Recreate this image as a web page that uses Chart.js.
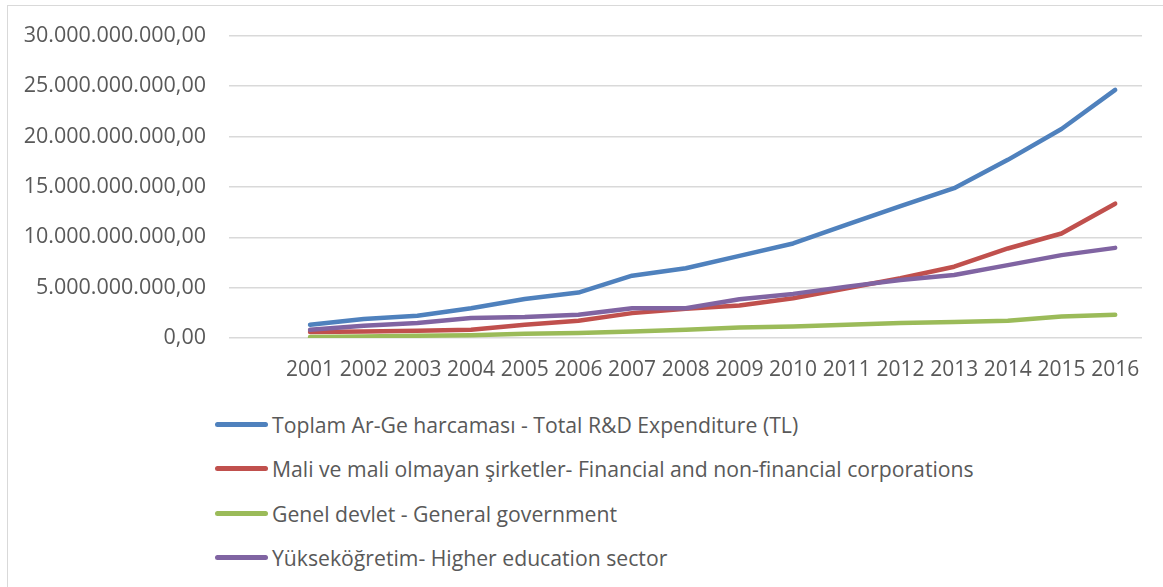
<!DOCTYPE html>
<html>
<head>
<meta charset="utf-8">
<script src="https://cdn.jsdelivr.net/npm/chart.js@4.4.1/dist/chart.umd.min.js"></script>
<style>
  html, body { margin: 0; padding: 0; background: #ffffff; }
  body { width: 1163px; height: 587px; overflow: hidden; position: relative; font-family: 'Open Sans', sans-serif; }
  #frame { position: absolute; left: 7px; top: 5px; width: 1220px; height: 640px; border: 1px solid #d9d9d9; box-sizing: border-box; }
  #wrap { position: absolute; left: 0; top: 0; width: 1163px; height: 400px; }
  #legend { position: absolute; left: 215px; top: 402px; }
  .row { height: 44.5px; display: flex; align-items: center; white-space: nowrap; }
  .swatch { display: inline-block; width: 53px; height: 5px; border-radius: 3px; margin-right: 4px; }
  .label { font-size: 21.2px; color: #595959; font-family: 'Open Sans', sans-serif; }
</style>
</head>
<body>
<div id="frame"></div>
<div id="wrap"><canvas id="c"></canvas></div>
<div id="legend"></div>
<script>
// ---- data ----
const years = [2001, 2002, 2003, 2004, 2005, 2006, 2007, 2008, 2009, 2010, 2011, 2012, 2013, 2014, 2015, 2016];
const seriesNames = [
  'Toplam Ar-Ge harcaması - Total R&D Expenditure (TL)',
  'Mali ve mali olmayan şirketler- Financial and non-financial corporations',
  'Genel devlet - General government',
  'Yükseköğretim- Higher education sector'
];
const totalRD = [1310000000, 1880000000, 2200000000, 2960000000, 3880000000, 4510000000, 6190000000, 6920000000, 8160000000, 9390000000, 11260000000, 13100000000, 14880000000, 17690000000, 20750000000, 24640000000];
const corporations = [590000000, 650000000, 720000000, 820000000, 1310000000, 1710000000, 2470000000, 2900000000, 3220000000, 3950000000, 4940000000, 5930000000, 7080000000, 8890000000, 10380000000, 13340000000];
const government = [100000000, 150000000, 230000000, 270000000, 420000000, 490000000, 650000000, 820000000, 1050000000, 1150000000, 1310000000, 1480000000, 1580000000, 1710000000, 2130000000, 2300000000];
const higherEdu = [820000000, 1220000000, 1480000000, 1980000000, 2080000000, 2300000000, 2960000000, 2960000000, 3850000000, 4380000000, 5100000000, 5760000000, 6250000000, 7240000000, 8230000000, 8950000000];
const yTicks = [0, 5000000000, 10000000000, 15000000000, 20000000000, 25000000000, 30000000000];
const colors = ['#4f81bd', '#c0504d', '#9bbb59', '#8064a2'];
const seriesValues = [totalRD, corporations, government, higherEdu];

function fmtTR(v) {
  return Math.round(v).toString().replace(/\B(?=(\d{3})+(?!\d))/g, '.') + ',00';
}

const datasets = seriesValues.map((vals, i) => ({
  label: seriesNames[i],
  data: years.map((y, j) => ({ x: y, y: vals[j] })),
  borderColor: colors[i],
  backgroundColor: colors[i],
  borderWidth: 4.5,
  borderCapStyle: 'round',
  borderJoinStyle: 'round',
  pointRadius: 0,
  pointHoverRadius: 0,
  tension: 0,
  fill: false,
  order: seriesValues.length - i
}));

Chart.defaults.font.family = "'Open Sans', sans-serif";
Chart.defaults.color = '#595959';

new Chart(document.getElementById('c'), {
  type: 'line',
  data: { datasets },
  options: {
    responsive: true,
    maintainAspectRatio: false,
    animation: false,
    layout: { padding: { top: 34, right: 21, bottom: 0, left: 0 } },
    plugins: { legend: { display: false }, tooltip: { enabled: false } },
    scales: {
      x: {
        type: 'linear',
        min: 1999.49,
        max: 2016.5,
        afterBuildTicks: (s) => { s.ticks = years.map(v => ({ value: v })); },
        afterFit: (s) => { s.height = 62; },
        grid: { display: false, drawTicks: false },
        border: { display: false },
        ticks: {
          autoSkip: false,
          maxRotation: 0,
          padding: 19,
          font: { size: 21 },
          color: '#595959',
          callback: (v) => String(v)
        }
      },
      y: {
        min: 0,
        max: 30000000000,
        afterBuildTicks: (s) => { s.ticks = yTicks.map(v => ({ value: v })); },
        afterFit: (s) => { s.width = 229; },
        grid: { color: '#d9d9d9', lineWidth: 1.6, drawTicks: false },
        border: { display: false },
        ticks: {
          padding: 23,
          font: { size: 21.5 },
          color: '#595959',
          callback: (v) => fmtTR(v)
        }
      }
    }
  }
});

// HTML legend built from the same arrays
const legend = document.getElementById('legend');
seriesNames.forEach((name, i) => {
  const row = document.createElement('div');
  row.className = 'row';
  const sw = document.createElement('span');
  sw.className = 'swatch';
  sw.style.background = colors[i];
  const lb = document.createElement('span');
  lb.className = 'label';
  lb.textContent = name;
  row.appendChild(sw);
  row.appendChild(lb);
  legend.appendChild(row);
});
</script>
</body>
</html>
